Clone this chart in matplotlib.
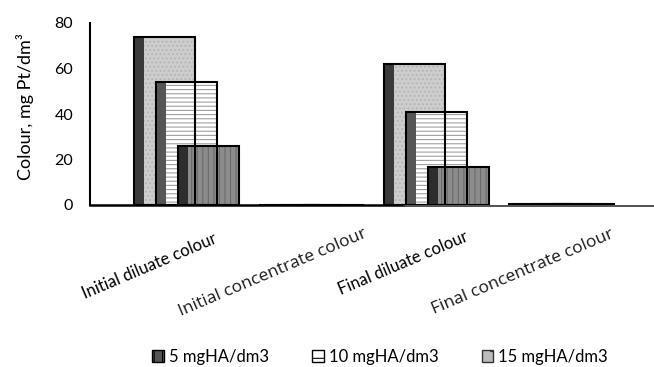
import matplotlib
matplotlib.use("Agg")
import matplotlib.pyplot as plt
import matplotlib.patches as patches
import matplotlib.transforms as transforms
import numpy as np

categorias = ["Initial diluate colour", "Initial concentrate colour",
              "Final diluate colour", "Final concentrate colour"]
series = ["5 mgHA/dm3", "10 mgHA/dm3", "15 mgHA/dm3"]
valores_5 = [26, 0, 16.5, 0.4]
valores_10 = [54, 0, 41, 0.4]
valores_15 = [74, 0, 62, 0.4]
y_ticks = [0, 20, 40, 60, 80]

plt.rcParams["font.family"] = ["Lato", "DejaVu Sans"]
plt.rcParams["hatch.linewidth"] = 0.8

fig = plt.figure(figsize=(6.54, 3.67), dpi=100)
ax = fig.add_axes([90 / 654, 1 - 205 / 367, 564 / 654, 182 / 367])

x = np.arange(len(categorias))
ancho = 0.49
lado = 0.076

# estilo por serie: (valores, desplazamiento, color lado, color cara, hatch, color hatch)
estilos = [
    (valores_15, -0.416, "#3a3a3a", "#cdcdcd", "....", "#b4b4b4"),
    (valores_10, -0.240, "#555555", "#ffffff", "----", "#a0a0a0"),
    (valores_5, -0.064, "#2e2e2e", "#8c8c8c", "|||", "#6a6a6a"),
]

# de atras hacia delante
for vals, dx, c_lado, c_cara, hatch, c_hatch in estilos:
    ax.bar(x + dx + lado, vals, width=ancho - lado, align="edge",
           color=c_cara, edgecolor=c_hatch, hatch=hatch, linewidth=0, zorder=2)
    ax.bar(x + dx, vals, width=lado, align="edge",
           color=c_lado, linewidth=0, zorder=2)
    ax.bar(x + dx, vals, width=ancho, align="edge", fill=False,
           edgecolor="black", linewidth=1.5, zorder=3)

ax.set_xlim(-0.768, 3.744)
ax.set_ylim(0, 80)
ax.set_yticks(y_ticks)
ax.tick_params(axis="y", length=0, pad=12, labelsize=11.5)
ax.set_xticks([])

for lado_spine in ["top", "right", "bottom"]:
    ax.spines[lado_spine].set_visible(False)
ax.spines["left"].set_linewidth(1.5)

# linea base (suelo 3D)
ax.plot([0, 0.555], [0, 0], color="black", lw=1.8, transform=ax.transAxes,
        clip_on=False, zorder=4)
ax.plot([0.555, 1], [-0.004, -0.004], color="#333333", lw=1.2,
        transform=ax.transAxes, clip_on=False, zorder=4)

# etiquetas de categorias
trans = transforms.blended_transform_factory(ax.transData, ax.transAxes)
etiqueta_dx = [0.26, 0.45, 0.27, 0.43]
etiqueta_y = [-0.209, -0.176, -0.198, -0.176]
for i, texto in enumerate(categorias):
    if "diluate" in texto:
        fam, tam, col = ["Lato", "DejaVu Sans"], 12, "black"
    else:
        fam, tam, col = ["Open Sans", "DejaVu Sans"], 12.5, "#1a1a1a"
    ax.text(x[i] + etiqueta_dx[i], etiqueta_y[i], texto, transform=trans,
            rotation=23, rotation_mode="anchor", ha="right", va="baseline",
            fontsize=tam, family=fam, color=col)

fig.text(25 / 654, 1 - 107 / 367, "Colour, mg Pt/dm³", rotation=90,
         ha="center", va="center", fontsize=13)

manijas = [
    patches.Patch(facecolor="#555555", edgecolor="black", hatch="||"),
    patches.Patch(facecolor="white", edgecolor="black", hatch="-"),
    patches.Patch(facecolor="#bbbbbb", edgecolor="#333333", hatch="."),
]
fig.legend(manijas, series, loc="center", ncol=3, frameon=False,
           bbox_to_anchor=(380 / 654, 1 - 357 / 367), fontsize=12,
           handlelength=0.7, handleheight=0.7, handletextpad=0.3,
           columnspacing=2.6)

fig.savefig("out.png", dpi=100)
